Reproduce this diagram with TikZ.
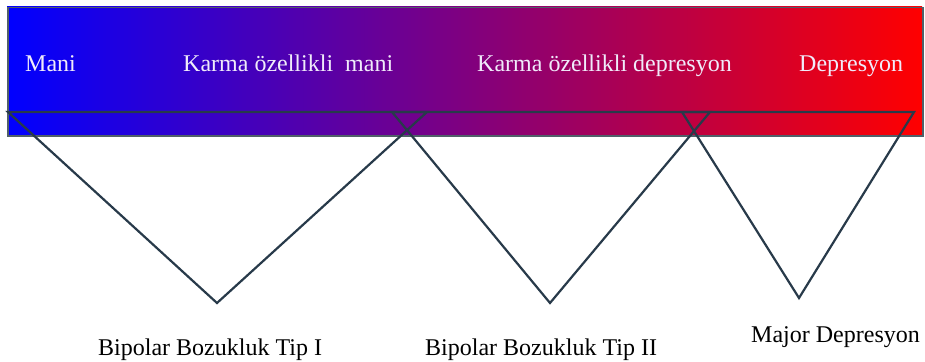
\documentclass[tikz,border=0pt]{standalone}
\usepackage{fontspec}
\setmainfont{Liberation Serif}
\definecolor{edge}{RGB}{40,58,74}
\definecolor{barborder}{RGB}{80,95,105}
\definecolor{softwhite}{RGB}{240,235,250}
\begin{document}
\begin{tikzpicture}[x=1pt,y=-1pt,
  lbl/.style={anchor=base west,inner sep=0pt,font=\fontsize{24}{28}\selectfont},
  inlbl/.style={lbl,text=softwhite},
  tri/.style={draw=edge,line width=2.2pt,line join=miter}]
\useasboundingbox (0,0) rectangle (925,361);
\shade[left color=blue,right color=red,shading angle=90] (7,7) rectangle (922,135);
\node[draw=barborder,line width=1.5pt,minimum width=915pt,minimum height=128pt,inner sep=0pt,anchor=north west] (bar) at (7,7) {};
\node[inlbl] (mani) at (25,71) {Mani};
\node[inlbl] (kmani) at (183,71) {Karma özellikli\ \ mani};
\node[inlbl] (kdep) at (477,71) {Karma özellikli depresyon};
\node[inlbl] (dep) at (799,71) {Depresyon};
\coordinate (a1) at (8,112);
\coordinate (b1) at (427,112);
\coordinate (c1) at (217,303);
\coordinate (a2) at (392,112);
\coordinate (b2) at (710,112);
\coordinate (c2) at (550,303);
\coordinate (a3) at (682,112);
\coordinate (b3) at (914,112);
\coordinate (c3) at (799,298);
\draw[tri] (a1) -- (b1) -- (c1) -- cycle;
\draw[tri] (a2) -- (b2) -- (c2) -- cycle;
\draw[tri] (a3) -- (b3) -- (c3) -- cycle;
\node[lbl] (t1) at (98,355) {Bipolar Bozukluk Tip I};
\node[lbl] (t2) at (425,355) {Bipolar Bozukluk Tip II};
\node[lbl] (t3) at (751,342) {Major Depresyon};
\end{tikzpicture}
\end{document}
